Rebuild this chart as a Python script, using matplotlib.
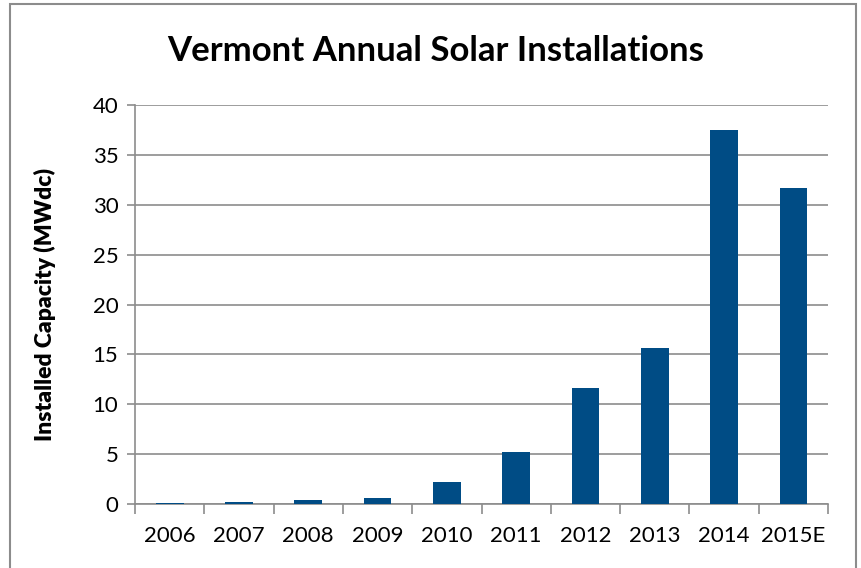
import numpy as np
import matplotlib.pyplot as plt
from matplotlib.patches import Rectangle

# =========================
# DATA
# =========================

years = ["2006", "2007", "2008", "2009", "2010", "2011", "2012", "2013", "2014", "2015E"]
capacity_mwdc = [0.05, 0.15, 0.37, 0.57, 2.2, 5.2, 11.6, 15.6, 37.5, 31.7]

# =========================
# PLOT
# =========================

plt.rcParams["font.family"] = ["Lato", "DejaVu Sans"]

fig = plt.figure(figsize=(8.62, 5.68), dpi=100)
ax = fig.add_axes([0.1566, 0.1127, 0.8040, 0.7024])

x = np.arange(len(years))
ax.bar(x, capacity_mwdc, width=0.4, color="#004C85", zorder=3)

ax.set_xlim(-0.5, len(years) - 0.5)
ax.set_ylim(0, 40)
ax.set_yticks(np.arange(0, 41, 5))
ax.yaxis.grid(True, color="#8C8C8C", linewidth=1.2, zorder=0)

ax.set_xticks(x)
ax.set_xticklabels(years, fontsize=16)
ax.set_xticks(np.arange(-0.5, len(years), 1), minor=True)
ax.tick_params(axis="x", which="major", length=0, pad=16)
ax.tick_params(axis="x", which="minor", length=7, width=1.2, color="#8C8C8C")
ax.tick_params(axis="y", length=6, width=1.2, color="#8C8C8C", labelsize=16, pad=6)

for side in ["top", "right"]:
    ax.spines[side].set_visible(False)
for side in ["left", "bottom"]:
    ax.spines[side].set_color("#8C8C8C")
    ax.spines[side].set_linewidth(1.2)

ax.set_ylabel("Installed Capacity (MWdc)", fontsize=16.5, fontweight="heavy", labelpad=26)
fig.text(0.505, 0.91, "Vermont Annual Solar Installations", fontsize=25,
         fontweight="bold", ha="center", va="center")

# outer chart frame
fig.patches.append(Rectangle((10 / 862, -0.05), 846 / 862, 1.043, transform=fig.transFigure,
                             fill=False, edgecolor="#8C8C8C", linewidth=1.5))

plt.savefig("out.png", dpi=100)
